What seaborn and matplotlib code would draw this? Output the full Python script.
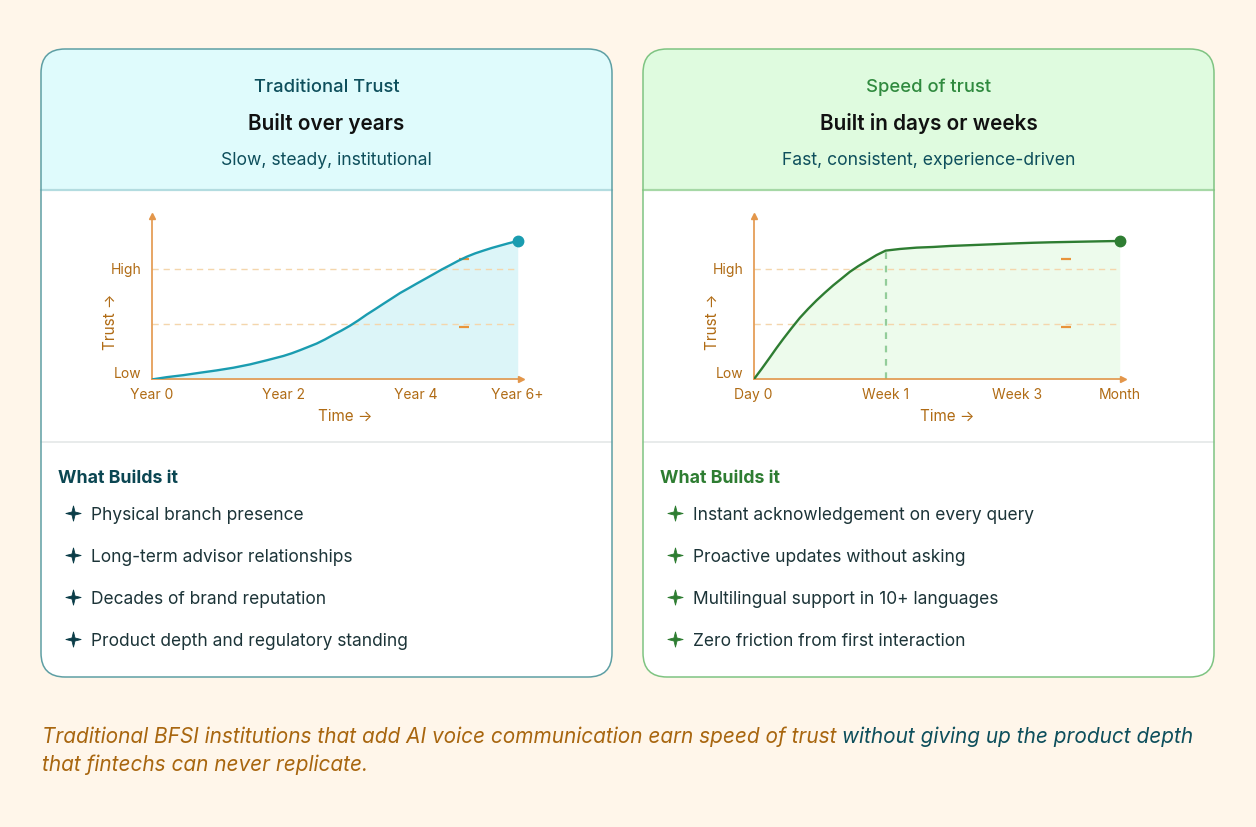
import matplotlib
matplotlib.use("Agg")
import matplotlib.pyplot as plt
import matplotlib.transforms as mtransforms
import seaborn as sns
import pandas as pd
from matplotlib.patches import FancyBboxPatch, Rectangle
from matplotlib import font_manager

# ---------------- data ----------------
left_x = [0, 0.227, 0.480, 0.733, 0.986, 1.238, 1.491, 1.744, 1.997, 2.123,
          2.249, 2.376, 2.502, 2.628, 2.755, 2.881, 3.008, 3.134, 3.260, 3.387,
          3.513, 3.639, 3.766, 3.892, 4.018, 4.145, 4.271, 4.398, 4.524, 4.650,
          4.777, 4.903, 5.029, 5.156, 5.282, 5.409, 5.55]
left_y = [0, 0.021, 0.039, 0.061, 0.082, 0.106, 0.136, 0.173, 0.212, 0.236,
          0.264, 0.294, 0.324, 0.361, 0.403, 0.442, 0.485, 0.533, 0.585, 0.633,
          0.682, 0.730, 0.779, 0.821, 0.864, 0.906, 0.948, 0.991, 1.030, 1.070,
          1.106, 1.136, 1.161, 1.185, 1.206, 1.227, 1.248]
right_x = [0, 0.122, 0.243, 0.344, 0.446, 0.572, 0.699, 0.825, 0.952, 1.079,
           1.205, 1.332, 1.458, 1.585, 1.712, 1.863, 2.0, 2.218, 2.471, 2.724,
           2.977, 3.231, 3.484, 3.737, 3.990, 4.243, 4.497, 4.750, 5.003, 5.256, 5.55]
right_y = [0, 0.097, 0.197, 0.282, 0.364, 0.461, 0.555, 0.636, 0.712, 0.782,
           0.848, 0.909, 0.970, 1.021, 1.067, 1.121, 1.161, 1.176, 1.188, 1.194,
           1.203, 1.209, 1.215, 1.221, 1.227, 1.232, 1.236, 1.239, 1.242, 1.245, 1.248]
tick_pos = [0, 2, 4, 5.55]
left_ticks = ["Year 0", "Year 2", "Year 4", "Year 6+"]
right_ticks = ["Day 0", "Week 1", "Week 3", "Month"]
level_pos = [0, 1]
level_labels = ["Low", "High"]
guide_levels = [0.5, 1.0]
marker_x = 4.74
marker_levels = [0.473, 1.088]
week1_x = 2.0
week1_y = 1.161

left_header = ["Traditional Trust", "Built over years", "Slow, steady, institutional"]
right_header = ["Speed of trust", "Built in days or weeks", "Fast, consistent, experience-driven"]
list_title = "What Builds it"
left_items = ["Physical branch presence", "Long-term advisor relationships",
              "Decades of brand reputation", "Product depth and regulatory standing"]
right_items = ["Instant acknowledgement on every query", "Proactive updates without asking",
               "Multilingual support in 10+ languages", "Zero friction from first interaction"]
caption_a = "Traditional BFSI institutions that add AI voice communication earn speed of trust"
caption_b = "without giving up the product depth"
caption_c = "that fintechs can never replicate."

# ---------------- style ----------------
sns.set_theme(style="white")
FONT = ["Inter", "DejaVu Sans"]
plt.rcParams["font.family"] = FONT


def italic_family():
    names = {}
    for f in font_manager.fontManager.ttflist:
        if f.style == "italic":
            names[f.name] = True
    for cand in ["Inter", "Lato", "Roboto", "Open Sans", "Noto Sans", "DejaVu Sans"]:
        if cand in names:
            return cand
    return "DejaVu Sans"


ITAL = [italic_family(), "DejaVu Sans"]

BG = "#FFF6EA"
AX_COL = "#E3964A"
LBL_COL = "#B06B14"
GUIDE_COL = "#F4D6AC"
DASH_COL = "#E8943A"
TEAL_DARK = "#0E4F5C"
GREEN = "#2E7D32"
ITEM_COL = "#1C3438"

# four-pointed star marker (concave sides)
STAR = [(0, 1), (0.2, 0.2), (1, 0), (0.2, -0.2), (0, -1), (-0.2, -0.2),
        (-1, 0), (-0.2, 0.2), (0, 1)]

W, H = 1256, 827
fig = plt.figure(figsize=(W / 100, H / 100), dpi=100)
fig.patch.set_facecolor(BG)
renderer = fig.canvas.get_renderer()

bg = fig.add_axes([0, 0, 1, 1])
bg.set_xlim(0, W)
bg.set_ylim(H, 0)
bg.axis("off")
bg.set_facecolor(BG)


def put(x, y, s, size, color, weight="normal", style="normal", ha="left",
        va="baseline", family=None, width=None, zorder=5):
    t = bg.text(x, y, s, fontsize=size, color=color, fontweight=weight,
                fontstyle=style, ha=ha, va=va, family=family or FONT, zorder=zorder)
    if width:
        w = t.get_window_extent(renderer).width
        t.set_fontsize(size * width / w)
    return t


def card(x0, x1, y0, y1, edge, head_fill, head_line):
    r = 24
    base = FancyBboxPatch((x0, y0), x1 - x0, y1 - y0,
                          boxstyle=f"round,pad=0,rounding_size={r}",
                          facecolor="white", edgecolor="none", zorder=1)
    bg.add_patch(base)
    head = Rectangle((x0, y0), x1 - x0, 190 - y0, facecolor=head_fill,
                     edgecolor="none", zorder=1.5)
    bg.add_patch(head)
    head.set_clip_path(base)
    bg.plot([x0, x1], [190, 190], color=head_line, lw=1.6, zorder=2)
    bg.plot([x0, x1], [442, 442], color="#E4E7E7", lw=1.2, zorder=2)
    border = FancyBboxPatch((x0, y0), x1 - x0, y1 - y0,
                            boxstyle=f"round,pad=0,rounding_size={r}",
                            facecolor="none", edgecolor=edge, lw=1.1, zorder=3)
    bg.add_patch(border)


card(41, 612, 49, 677, "#5E9FA4", "#DFFBFC", "#B3DCE0")
card(643, 1214, 49, 677, "#7FC482", "#DFFBDF", "#A6D8A6")

# ---------------- header texts ----------------
def headers(cx, texts, title_col):
    t1 = put(cx, 91.5, texts[0], 13, title_col, weight="medium", ha="center")
    t2 = put(cx, 129.5, texts[1], 15.5, "#111111", weight="semibold", ha="center")
    t3 = put(cx, 165, texts[2], 12.5, TEAL_DARK, ha="center")
    return t1, t2, t3


l1, l2, l3 = headers(326.5, left_header, TEAL_DARK)
for t, w in zip((l1, l2, l3), (145, 156, 211)):
    t.set_fontsize(t.get_fontsize() * w / t.get_window_extent(renderer).width)
r1, r2, r3 = headers(928.5, right_header, "#2F8A3E")
for lt, rt in zip((l1, l2, l3), (r1, r2, r3)):
    rt.set_fontsize(lt.get_fontsize())

# ---------------- lists ----------------
hd = put(58, 483.3, list_title, 12.5, "#0B4652", weight="bold", width=120)
hd2 = put(660, 483.3, list_title, hd.get_fontsize(), GREEN, weight="bold")
probe = put(91, 520, left_items[0], 12.8, ITEM_COL, width=212)
item_size = probe.get_fontsize()
probe.remove()
baselines = [520, 562, 604, 646]
for items, tx, sx, scol in ((left_items, 91, 73.4, "#0B3D48"),
                            (right_items, 693, 675, GREEN)):
    for s, yb in zip(items, baselines):
        put(tx, yb, s, item_size, ITEM_COL)
        bg.plot([sx], [yb - 7], marker=STAR, ms=11, color=scol, mec=scol,
                mew=0.6, ls="none", zorder=5)

# ---------------- caption ----------------
full = put(42, 743.3, caption_a + " " + caption_b, 14, LBL_COL, style="italic",
           family=ITAL, width=1150)
csize = full.get_fontsize()
full.remove()
tmp = put(42, 743.3, caption_a + " " + caption_b, csize, LBL_COL, style="italic", family=ITAL)
full_w = tmp.get_window_extent(renderer).width
tmp.remove()
put(42, 743.3, caption_a, csize, "#A8660F", style="italic", family=ITAL)
put(42 + full_w, 743.3, caption_b, csize, TEAL_DARK, style="italic", family=ITAL, ha="right")
put(42, 771, caption_c, csize, "#A8660F", style="italic", family=ITAL)

# ---------------- charts ----------------
X_PER = 65.95
Y_PER = 111.0
XMAX, YMAX = 5.6, 1.47


def chart(x_origin, xs, ys, line_col, fill_col, ticks, week_line=False):
    y_origin = 379.5
    ax = fig.add_axes([x_origin / W, (H - y_origin) / H,
                       XMAX * X_PER / W, YMAX * Y_PER / H])
    ax.set_facecolor("none")
    ax.set_xlim(0, XMAX)
    ax.set_ylim(0, YMAX)
    ax.fill_between(xs, ys, 0, color=fill_col, lw=0, zorder=1)
    for lv in guide_levels:
        ax.plot([0, xs[-1]], [lv, lv], color=GUIDE_COL, lw=1.0,
                dashes=(4.5, 3.5), zorder=2)
    if week_line:
        ax.plot([week1_x, week1_x], [0, week1_y], color="#93CD9A", lw=1.6,
                dashes=(3, 3), zorder=2)
    df = pd.DataFrame({"x": xs, "y": ys})
    sns.lineplot(data=df, x="x", y="y", ax=ax, color=line_col, lw=1.7,
                 zorder=4, sort=False)
    ax.plot([xs[-1]], [ys[-1]], "o", color=line_col, ms=7.5, zorder=5, clip_on=False)
    ax.plot([marker_x] * len(marker_levels), marker_levels, "_", color=DASH_COL,
            ms=7, mew=1.6, ls="none", zorder=3)
    for side in ("top", "right"):
        ax.spines[side].set_visible(False)
    for side in ("left", "bottom"):
        ax.spines[side].set_color(AX_COL)
        ax.spines[side].set_linewidth(1.2)
    ax.plot(1, 0, ">", color=AX_COL, ms=4.5, transform=ax.transAxes, clip_on=False)
    ax.plot(0, 1, "^", color=AX_COL, ms=4.5, transform=ax.transAxes, clip_on=False)
    ax.set_xticks(tick_pos)
    ax.set_xticklabels(ticks)
    ax.set_yticks(level_pos)
    ax.set_yticklabels(level_labels)
    ax.tick_params(axis="both", length=0, colors=LBL_COL, labelsize=10)
    ax.tick_params(axis="x", pad=6)
    ax.tick_params(axis="y", pad=7.5)
    ax.set_xlabel("")
    ax.set_ylabel("")
    ax.grid(False)
    for lab in ax.get_xticklabels() + ax.get_yticklabels():
        lab.set_color(LBL_COL)
    low = ax.get_yticklabels()[0]
    low.set_transform(low.get_transform() +
                      mtransforms.ScaledTranslation(0, 5 / 72, fig.dpi_scale_trans))
    ax.text((345 - 151.7) / (XMAX * X_PER), (y_origin - 416.5) / (YMAX * Y_PER),
            "Time \u2192", transform=ax.transAxes, ha="center", va="center",
            fontsize=11, color=LBL_COL, family=FONT)
    ax.text((110 - 151.7) / (XMAX * X_PER), (y_origin - 322) / (YMAX * Y_PER),
            "Trust \u2192", transform=ax.transAxes, ha="center", va="center",
            rotation=90, fontsize=11, color=LBL_COL, family=FONT)
    return ax


chart(151.7, left_x, left_y, "#1A9CB0", "#DCF5F8", left_ticks)
chart(753.7, right_x, right_y, "#2E7D32", "#EDFBEC", right_ticks, week_line=True)

fig.savefig("out.png", dpi=100, facecolor=BG)
